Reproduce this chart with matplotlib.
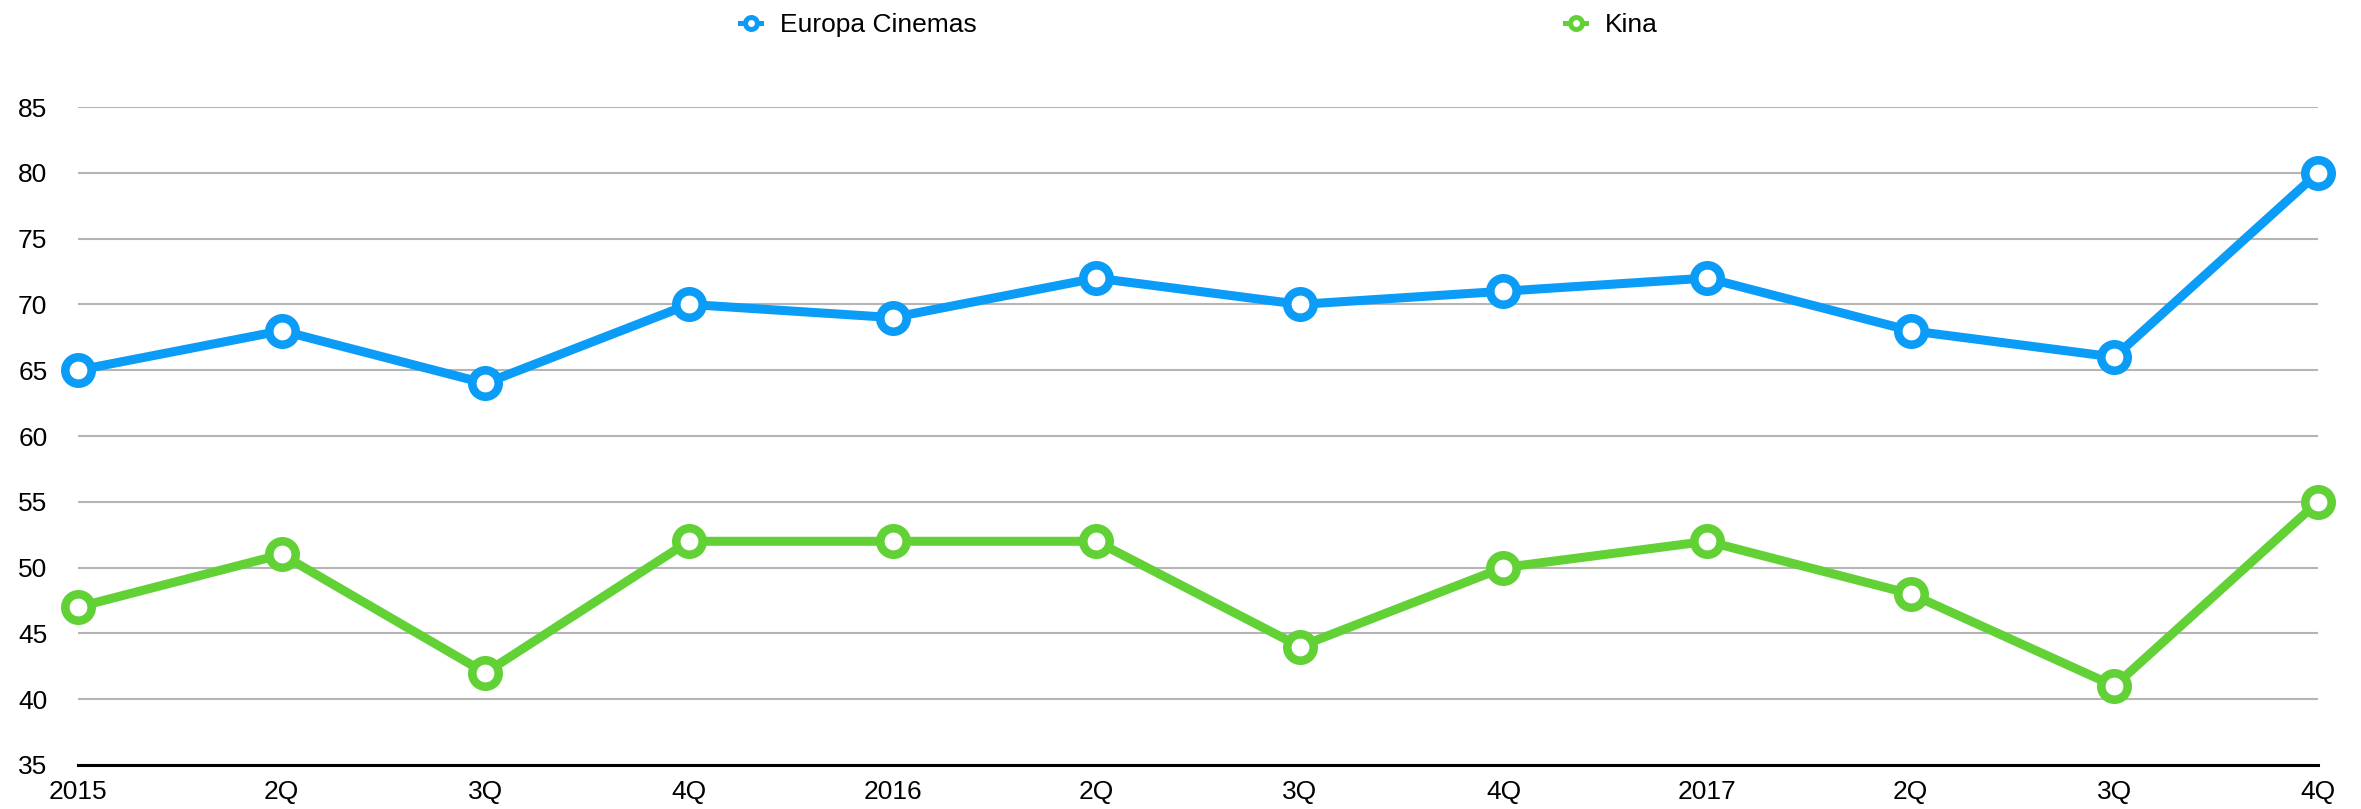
import matplotlib
matplotlib.use("Agg")
import matplotlib.pyplot as plt
from matplotlib.lines import Line2D

plt.rcParams['font.family'] = ['Liberation Sans', 'DejaVu Sans']

categories = ["2015", "2Q", "3Q", "4Q", "2016", "2Q", "3Q", "4Q", "2017", "2Q", "3Q", "4Q"]
europa = [65, 68, 64, 70, 69, 72, 70, 71, 72, 68, 66, 80]
kina = [47, 51, 42, 52, 52, 52, 44, 50, 52, 48, 41, 55]
yticks = [35, 40, 45, 50, 55, 60, 65, 70, 75, 80, 85]

blue = '#0A9CF6'
green = '#62D136'

fig = plt.figure(figsize=(23.61, 8.09), dpi=100)
ax = fig.add_axes([78/2361, 1-765/809, (2318-78)/2361, (765-107)/809])

x = list(range(len(categories)))
for vals, col in [(europa, blue), (kina, green)]:
    ax.plot(x, vals, color=col, lw=6.5, marker='o', ms=19, mew=6.2,
            mfc='white', mec=col, clip_on=False, zorder=3)

ax.set_xlim(0, len(categories)-1)
ax.set_ylim(35, 85)
ax.set_yticks(yticks)
ax.set_xticks(x)
ax.set_xticklabels(categories)
ax.grid(axis='y', color='#B5B5B5', lw=1.5)
ax.set_axisbelow(True)
for s in ['top', 'right', 'left']:
    ax.spines[s].set_visible(False)
ax.spines['bottom'].set_color('black')
ax.spines['bottom'].set_linewidth(2.2)
ax.spines['bottom'].set_zorder(1)
ax.tick_params(axis='y', length=0, pad=22, labelsize=19)
ax.tick_params(axis='x', length=0, pad=11, labelsize=19)

handles = [Line2D([], [], color=blue, lw=3.6, marker='o', ms=8.6, mew=3.6, mfc='white', mec=blue),
           Line2D([], [], color=green, lw=3.6, marker='o', ms=8.6, mew=3.6, mfc='white', mec=green)]
for h, lab, xpos in [(handles[0], 'Europa Cinemas', 753), (handles[1], 'Kina', 1578)]:
    fig.legend([h], [lab], loc='center left', bbox_to_anchor=((xpos-13)/2361, 1-25/809),
               frameon=False, fontsize=19, handlelength=0.8, handletextpad=0.7,
               borderpad=0, borderaxespad=0)

fig.savefig('out.png', dpi=100)
